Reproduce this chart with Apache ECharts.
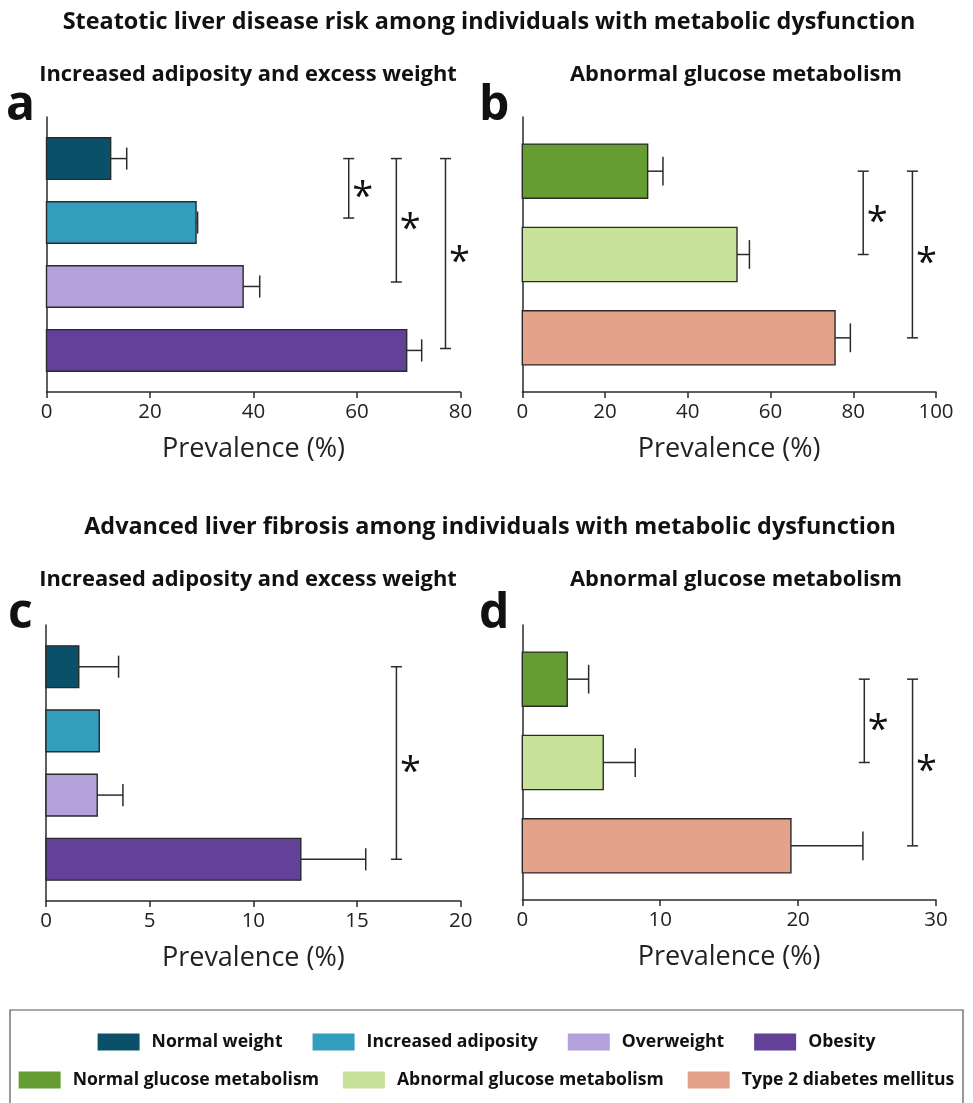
<!DOCTYPE html>
<html>
<head>
<meta charset="utf-8">
<script src="https://cdn.jsdelivr.net/npm/echarts@6/dist/echarts.min.js"></script>
<style>
html,body{margin:0;padding:0;background:#fff;}
#chart{width:973px;height:1103px;}
</style>
</head>
<body>
<div id="chart"></div>
<script>
// ---- data ----
const weightCategories = ['Normal weight', 'Increased adiposity', 'Overweight', 'Obesity'];
const glucoseCategories = ['Normal glucose metabolism', 'Abnormal glucose metabolism', 'Type 2 diabetes mellitus'];

// panel a: steatotic liver disease, adiposity groups
const aValues = [12.4, 28.9, 38.0, 69.6];
const aUpper  = [15.5, 29.2, 41.2, 72.5];
const aBrackets = [[0, 0.93, 58.4], [0, 1.93, 67.6], [0, 2.97, 77.1]];
// panel b: steatotic liver disease, glucose groups
const bValues = [30.3, 51.9, 75.6];
const bUpper  = [34.0, 54.9, 79.3];
const bBrackets = [[0, 1, 82.4], [0, 2, 94.3]];
// panel c: advanced fibrosis, adiposity groups
const cValues = [1.58, 2.57, 2.47, 12.29];
const cUpper  = [3.5, 2.57, 3.71, 15.42];
const cBrackets = [[0, 3, 16.9]];
// panel d: advanced fibrosis, glucose groups
const dValues = [3.26, 5.87, 19.48];
const dUpper  = [4.81, 8.19, 24.7];
const dBrackets = [[0, 1, 24.8], [0, 2, 28.3]];

const xMax = [80, 100, 20, 30];
const xInterval = [20, 20, 5, 10];

const colors = {
  'Normal weight': '#0b5069',
  'Increased adiposity': '#339dbd',
  'Overweight': '#b4a0da',
  'Obesity': '#634199',
  'Normal glucose metabolism': '#659d32',
  'Abnormal glucose metabolism': '#c8e29a',
  'Type 2 diabetes mellitus': '#e5a28a'
};

const FONT = 'Open Sans';
const BAR_H = 0.65;
const CAP_H = 0.345;
const INK = '#2a2a2a';

function barRender(params, api) {
  const v = api.value(0), idx = api.value(1), up = api.value(2);
  const p0 = api.coord([0, idx]);
  const p1 = api.coord([v, idx]);
  const pe = api.coord([up, idx]);
  const h = api.size([0, BAR_H])[1];
  const cap = api.size([0, CAP_H])[1];
  const children = [];
  if (up > v) {
    children.push({type: 'line', shape: {x1: p1[0], y1: p1[1], x2: pe[0], y2: pe[1]}, style: {stroke: INK, lineWidth: 1.5}});
    children.push({type: 'line', shape: {x1: pe[0], y1: pe[1] - cap / 2, x2: pe[0], y2: pe[1] + cap / 2}, style: {stroke: INK, lineWidth: 1.5}});
  }
  children.push({type: 'rect', shape: {x: p0[0], y: p0[1] - h / 2, width: p1[0] - p0[0], height: h},
    style: {fill: api.visual('color'), stroke: INK, lineWidth: 1.4}});
  return {type: 'group', children: children};
}

function bracketRender(params, api) {
  const from = api.value(0), to = api.value(1), x = api.value(2);
  const pA = api.coord([x, from]);
  const pB = api.coord([x, to]);
  const pM = api.coord([x, (from + to) / 2]);
  const w = 5.5;
  const st = {stroke: INK, lineWidth: 1.5};
  return {type: 'group', children: [
    {type: 'line', shape: {x1: pA[0], y1: pA[1], x2: pB[0], y2: pB[1]}, style: st},
    {type: 'line', shape: {x1: pA[0] - w, y1: pA[1], x2: pA[0] + w, y2: pA[1]}, style: st},
    {type: 'line', shape: {x1: pB[0] - w, y1: pB[1], x2: pB[0] + w, y2: pB[1]}, style: st},
    {type: 'text', x: pM[0] + 14, y: pM[1] + 10, style: {text: '*', fontSize: 38, fontFamily: FONT, fill: '#111', align: 'center', verticalAlign: 'middle'}}
  ]};
}

const grids = [
  {left: 46.5, top: 117, width: 414, height: 275},
  {left: 522.3, top: 117, width: 413.7, height: 275},
  {left: 46, top: 625, width: 414.7, height: 276},
  {left: 522.3, top: 625, width: 413.7, height: 275}
];

const panels = [
  {cats: weightCategories, values: aValues, upper: aUpper, brackets: aBrackets},
  {cats: glucoseCategories, values: bValues, upper: bUpper, brackets: bBrackets},
  {cats: weightCategories, values: cValues, upper: cUpper, brackets: cBrackets},
  {cats: glucoseCategories, values: dValues, upper: dUpper, brackets: dBrackets}
];

const xAxes = [], yAxes = [], series = [];
panels.forEach((p, gi) => {
  xAxes.push({
    type: 'value', gridIndex: gi, min: 0, max: xMax[gi], interval: xInterval[gi],
    splitLine: {show: false},
    axisLine: {show: true, onZero: false, lineStyle: {color: INK, width: 1.5}},
    axisTick: {show: true, length: 6, lineStyle: {color: INK, width: 1.5}},
    axisLabel: {fontSize: 20.5, color: '#222', fontFamily: FONT, margin: 10},
    name: 'Prevalence (%)', nameLocation: 'middle', nameGap: 44,
    nameTextStyle: {fontSize: 27, color: '#222', fontFamily: FONT}
  });
  yAxes.push({
    type: 'value', gridIndex: gi, inverse: true, min: -0.65, max: p.cats.length - 1 + 0.65,
    splitLine: {show: false}, axisTick: {show: false}, axisLabel: {show: false},
    axisLine: {show: true, onZero: false, lineStyle: {color: INK, width: 1.5}}
  });
  p.cats.forEach((c, i) => {
    series.push({
      type: 'custom', name: c, xAxisIndex: gi, yAxisIndex: gi,
      itemStyle: {color: colors[c]},
      renderItem: barRender,
      encode: {x: 0, y: 1},
      data: [[p.values[i], i, p.upper[i]]],
      silent: true
    });
  });
  series.push({
    type: 'custom', name: 'significance ' + gi, xAxisIndex: gi, yAxisIndex: gi,
    renderItem: bracketRender,
    encode: {x: 2, y: 0},
    data: p.brackets,
    silent: true
  });
});

function txt(text, x, y, size, weight, align) {
  return {type: 'text', x: x, y: y, style: {text: text, fontSize: size, fontWeight: weight, fontFamily: FONT, fill: '#111', align: align || 'center', verticalAlign: 'middle'}};
}

const legendText = {fontSize: 17.6, fontWeight: 'bold', fontFamily: FONT, color: '#111', padding: [0, 0, 0, 7]};

const option = {
  backgroundColor: '#fff',
  animation: false,
  grid: grids,
  xAxis: xAxes,
  yAxis: yAxes,
  series: series,
  legend: [
    {data: weightCategories, left: 'center', top: 1028, icon: 'rect', itemWidth: 42, itemHeight: 17, itemGap: 30,
      textStyle: legendText, selectedMode: false},
    {data: glucoseCategories, left: 'center', top: 1066, icon: 'rect', itemWidth: 42, itemHeight: 17, itemGap: 24,
      textStyle: legendText, selectedMode: false}
  ],
  graphic: [
    txt('Steatotic liver disease risk among individuals with metabolic dysfunction', 489, 22, 23.4, 'bold'),
    txt('Increased adiposity and excess weight', 248, 75, 21.9, 'bold'),
    txt('Abnormal glucose metabolism', 736, 75, 21.9, 'bold'),
    txt('a', 6, 106, 48, 'bold', 'left'),
    txt('b', 479, 106, 48, 'bold', 'left'),
    txt('Advanced liver fibrosis among individuals with metabolic dysfunction', 490, 527, 23.4, 'bold'),
    txt('Increased adiposity and excess weight', 248, 580, 21.9, 'bold'),
    txt('Abnormal glucose metabolism', 736, 580, 21.9, 'bold'),
    txt('c', 8, 614, 48, 'bold', 'left'),
    txt('d', 479, 614, 48, 'bold', 'left'),
    {type: 'rect', shape: {x: 10, y: 1010, width: 953, height: 110}, style: {fill: 'none', stroke: '#555', lineWidth: 1.2}, silent: true}
  ]
};

const chart = echarts.init(document.getElementById('chart'), null, {renderer: 'canvas'});
chart.setOption(option);
</script>
</body>
</html>
